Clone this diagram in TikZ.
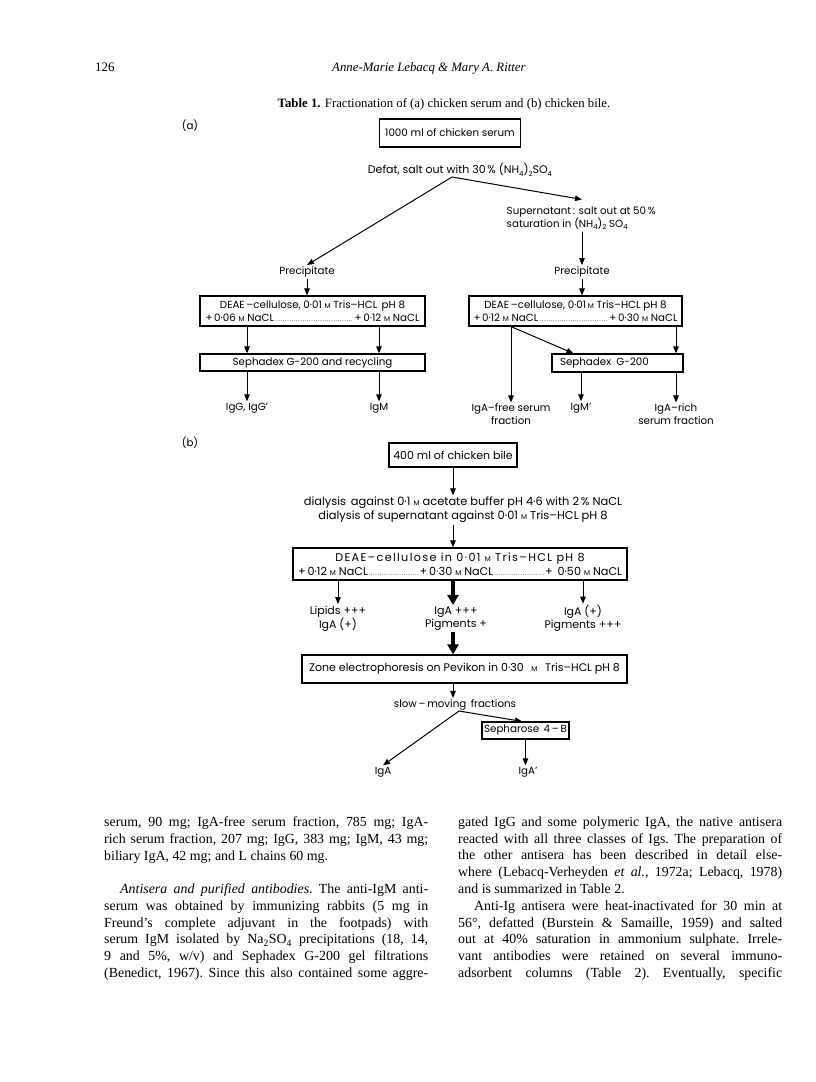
\documentclass[tikz,border=0pt]{standalone}
\usepackage{fontspec}
\setmainfont{Liberation Serif}
\newfontfamily\letrafont{Poppins}
\usetikzlibrary{arrows.meta, positioning}

\newcommand{\molar}{{\fontsize{7}{7}\selectfont M}}
\newcommand{\chsub}[1]{\raisebox{-0.4ex}{\fontsize{7}{7}\selectfont #1}}
\newcommand{\dotlead}{\leaders\hbox to 2.2pt{\hss\fontsize{6}{6}\selectfont.\hss}\hfill}

\begin{document}
\begin{tikzpicture}[
    x=1pt, y=-1pt,
    box/.style={rectangle, draw, line width=1.2pt, inner sep=2pt, align=center, font=\letrafont\fontsize{10.3}{13.5}\selectfont},
    lbl/.style={inner sep=1.5pt, align=center, font=\letrafont\fontsize{10.3}{12.8}\selectfont},
    arrow/.style={-{Triangle[length=7pt, width=5.5pt]}, line width=1pt},
    fat/.style={-{Triangle[length=10pt, width=11pt]}, line width=3.2pt},
    body/.style={anchor=north west, inner sep=0pt, text width=324pt, align=justify, font=\fontsize{13.9}{16.8}\selectfont\frenchspacing}
]
\useasboundingbox (0, 0) rectangle (816, 1082);

% Running head and caption
\node[anchor=base west, inner sep=0pt, font=\fontsize{13}{15}\selectfont] (pageno) at (95, 71) {126};
\node[anchor=base west, inner sep=0pt, font=\fontsize{12.8}{15}\selectfont\itshape] (authors) at (332, 71) {Anne-Marie Lebacq \& Mary A. Ritter};
\node[inner sep=0pt, font=\fontsize{12.8}{14}\selectfont] (caption) at (444, 104) {\textbf{Table 1.} Fractionation of (a) chicken serum and (b) chicken bile.};

% (a) serum
\node[lbl] (parta) at (190, 126) {(a)};
\node[box, minimum width=141, minimum height=28] (serum) at (450, 133) {1000 ml of chicken serum};
\node[lbl, font=\letrafont\fontsize{11}{13}\selectfont] (defat) at (460, 170) {Defat, salt out with 30\,\% (NH\chsub{4})\chsub{2}SO\chsub{4}};
\coordinate (fork) at (452, 177);
\node[lbl, anchor=west, align=left] (super) at (505, 218.5) {Supernatant\,: salt out at 50\,\%\\saturation in (NH\chsub{4})\chsub{2} SO\chsub{4}};
\node[lbl] (precl) at (307, 272) {Precipitate};
\node[lbl] (precr) at (582, 272) {Precipitate};

\node[box, minimum width=225, minimum height=30] (ldeae) at (312.5, 311) {DEAE\,–cellulose, 0·01 \molar\ Tris–HCL\, pH 8\\\makebox[214pt]{+\,0·06 \molar\ NaCL\dotlead+\,0·12 \molar\ NaCL}};
\node[box, minimum width=213, minimum height=30] (rdeae) at (575.5, 311) {DEAE\,–cellulose, 0·01\,\molar\ Tris–HCL pH 8\\\makebox[204pt]{+\,0·12 \molar\ NaCL\dotlead+\,0·30 \molar\ NaCL}};
\node[box, minimum width=225, minimum height=17, inner ysep=1pt] (lseph) at (312.5, 362.5) {Sephadex G-200 and recycling};
\node[box, minimum width=131, minimum height=18, inner ysep=1pt, text width=115pt, align=left] (rseph) at (617.5, 363) {Sephadex\, G-200};

\node[lbl] (igg) at (247, 408) {IgG, IgG’};
\node[lbl] (igm) at (379, 408) {IgM};
\node[lbl] (igafree) at (511, 414.5) {IgA–free serum\\fraction};
\node[lbl] (igmp) at (581, 408) {IgM’};
\node[lbl] (igarich) at (676, 414.5) {IgA–rich\\serum fraction};

\draw[arrow] (fork) -- (precl.north);
\draw[arrow] (fork) -- ([yshift=6pt]super.north -| precr);
\draw[arrow] (super.south -| precr) -- (precr.north);
\draw[arrow] (precl.south) -- (ldeae.north -| precl);
\draw[arrow] (precr.south) -- (rdeae.north -| precr);
\draw[arrow] (ldeae.south -| igg) -- (lseph.north -| igg);
\draw[arrow] (ldeae.south -| igm) -- (lseph.north -| igm);
\draw[arrow] (lseph.south -| igg) -- (igg.north);
\draw[arrow] (lseph.south -| igm) -- (igm.north);
\draw[arrow] (rdeae.south -| igafree) -- (igafree.north);
\draw[arrow] (rdeae.south -| igafree) -- ([xshift=22pt]rseph.north west);
\draw[arrow] (rdeae.south -| igarich) -- (rseph.north -| igarich);
\draw[arrow] (rseph.south -| igmp) -- (igmp.north);
\draw[arrow] (rseph.south -| igarich) -- (igarich.north);

% (b) bile
\node[lbl] (partb) at (190, 443) {(b)};
\node[box, minimum width=128, minimum height=24, font=\letrafont\fontsize{11}{13}\selectfont] (bile) at (453, 455) {400 ml of chicken bile};
\node[lbl, font=\letrafont\fontsize{11.4}{14}\selectfont] (dialysis) at (463, 510) {dialysis\, against 0·1 \molar\ acetate buffer pH 4·6 with 2\,\% NaCL\\dialysis of supernatant against 0·01 \molar\ Tris–HCL pH 8};
\node[box, minimum width=334, minimum height=32, font=\letrafont\fontsize{11.2}{14}\selectfont] (bdeae) at (460, 564) {{\addfontfeature{LetterSpace=12}DEAE–cellulose in 0·01 \molar\ Tris–HCL pH 8}\\\makebox[324pt]{+\,0·12 \molar\ NaCL\dotlead+\,0·30 \molar\ NaCL\dotlead+\, 0·50 \molar\ NaCL}};

\node[lbl, font=\letrafont\fontsize{11}{13}\selectfont] (lipids) at (338, 618.5) {Lipids +++\\IgA (+)};
\node[lbl, font=\letrafont\fontsize{11}{13}\selectfont] (igabile) at (456, 618.5) {IgA +++\\Pigments +};
\node[lbl, font=\letrafont\fontsize{11}{13}\selectfont] (pigments) at (583, 618.5) {IgA (+)\\Pigments +++};

\node[box, minimum width=325, minimum height=28, font=\letrafont\fontsize{11}{13}\selectfont] (zone) at (464.5, 669) {Zone electrophoresis on Pevikon in 0·30 \, \molar\ \, Tris–HCL pH 8};
\node[lbl] (slow) at (455, 705) {slow\,–\,moving\, fractions};
\coordinate (split) at (459, 711);
\node[box, minimum width=87, minimum height=17, inner ysep=1pt] (sepharose) at (525.5, 730.5) {Sepharose\, 4\,–\,B};
\node[lbl] (igab) at (383, 772) {IgA};
\node[lbl] (igaprime) at (528, 772) {IgA’};

\draw[arrow] (bile.south) -- (dialysis.north -| bile);
\draw[arrow] (dialysis.south -| bile) -- (bdeae.north -| bile);
\draw[arrow] (bdeae.south -| lipids) -- (lipids.north);
\draw[fat] (bdeae.south -| bile) -- (igabile.north -| bile);
\draw[arrow] (bdeae.south -| pigments) -- (pigments.north);
\draw[fat] (igabile.south -| bile) -- (zone.north -| bile);
\draw[arrow] (zone.south -| bile) -- (slow.north -| bile);
\draw[arrow] (split) -- ([xshift=-3.5pt]sepharose.north);
\draw[arrow] (split) -- (igab.north);
\draw[arrow] (sepharose.south) -- (sepharose.south |- igaprime.north);

% Body text
\node[body] (leftone) at (104, 816.5) {serum, 90 mg; IgA-free serum fraction, 785 mg; IgA-\linebreak rich serum fraction, 207 mg; IgG, 383 mg; IgM, 43 mg;\linebreak biliary IgA, 42 mg; and L chains 60 mg.};
\node[body] (lefttwo) at (104, 883.5) {\parfillskip=0pt\hspace*{16pt}\textit{Antisera and purified antibodies}. The anti-IgM anti-\linebreak serum was obtained by immunizing rabbits (5 mg in\linebreak Freund’s complete adjuvant in the footpads) with\linebreak serum IgM isolated by Na\textsubscript{2}SO\textsubscript{4} precipitations (18, 14,\linebreak 9 and 5\%, w/v) and Sephadex G-200 gel filtrations\linebreak (Benedict, 1967). Since this also contained some aggre-\par};
\node[body] (rightcol) at (458, 816.5) {gated IgG and some polymeric IgA, the native antisera\linebreak reacted with all three classes of Igs. The preparation of\linebreak the other antisera has been described in detail else-\linebreak where (Lebacq-Verheyden \textit{et al.}, 1972a; Lebacq, 1978)\linebreak and is summarized in Table 2.\par\parfillskip=0pt\hspace*{16pt}Anti-Ig antisera were heat-inactivated for 30 min at\linebreak 56°, defatted (Burstein \& Samaille, 1959) and salted\linebreak out at 40\% saturation in ammonium sulphate. Irrele-\linebreak vant antibodies were retained on several immuno-\linebreak adsorbent columns (Table 2). Eventually, specific\par};

\end{tikzpicture}
\end{document}
